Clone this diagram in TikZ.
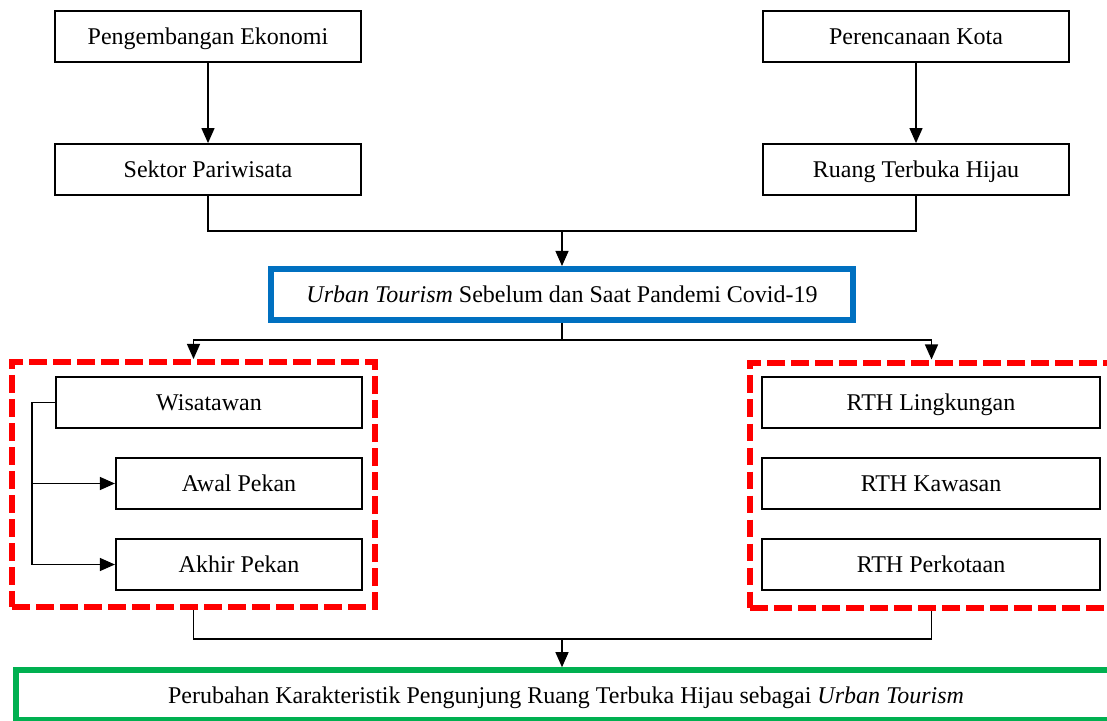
\documentclass[tikz,border=0pt]{standalone}
\usepackage{fontspec}
\setmainfont{Liberation Serif}
\usetikzlibrary{arrows.meta,positioning}
\definecolor{birutua}{RGB}{0,112,192}
\definecolor{hijautua}{RGB}{0,176,80}

\begin{document}
\begin{tikzpicture}[x=0.5pt,y=-0.5pt,font=\fontsize{12}{14}\selectfont,
  >={Triangle[length=7.5pt,width=6.5pt]},
  txt/.style={text height=8pt,text depth=0pt,inner sep=0pt},
  box/.style={draw,txt,line width=1.1pt,minimum width=153pt,minimum height=25.5pt},
  sub/.style={box,minimum width=123pt},
  rth/.style={box,minimum width=169pt},
  bluebox/.style={draw=birutua,txt,line width=3pt,minimum width=291pt,minimum height=25.5pt},
  redbox/.style={draw=red,line width=3pt,dash pattern=on 8.8pt off 3.2pt,minimum width=181.5pt,minimum height=122.5pt},
  greenbox/.style={draw=hijautua,txt,line width=2.8pt,minimum width=550pt,minimum height=25pt},
  ln/.style={line width=0.6pt}]
\useasboundingbox (0,0) rectangle (1107,721);
% baris atas
\node[box] (pe) at (208,36.5) {Pengembangan Ekonomi};
\node[box,below=40pt of pe] (sp) {Sektor Pariwisata};
\node[box] (pk) at (916,36.5) {Perencanaan Kota};
\node[box,below=40pt of pk] (rt) {Ruang Terbuka Hijau};
\node[bluebox] (ut) at (562,294.5) {\textit{Urban Tourism} Sebelum dan Saat Pandemi Covid-19};
% kelompok kiri dan kanan
\node[redbox] (kl) at (193.5,484.5) {};
\node[redbox] (kr) at (931.5,485) {};
\node[box] (wis) at (209,402.5) {Wisatawan};
\node[sub] (awal) at (239,483.5) {Awal Pekan};
\node[sub] (akhir) at (239,564.5) {Akhir Pekan};
\node[rth] (rl) at (931,402.5) {RTH Lingkungan};
\node[rth] (rk) at (931,483.5) {RTH Kawasan};
\node[rth] (rp) at (931,564.5) {RTH Perkotaan};
\node[greenbox] (hasil) at (566,695) {Perubahan Karakteristik Pengunjung Ruang Terbuka Hijau sebagai \textit{Urban Tourism}};
\coordinate (j1) at (562,231);
\coordinate (j2) at (562,340);
\coordinate (j3) at (562,639);
\draw[ln,->](pe)--(sp);\draw[ln,->](pk)--(rt);
\draw[ln](sp.south)|-(j1);\draw[ln](rt.south)|-(j1);\draw[ln,->](j1)--(ut.north);
\draw[ln](ut.south)--(j2);\draw[ln,->](j2)-|(kl.north);\draw[ln,->](j2)-|(kr.north);
\draw[ln,->](wis.west)--++(-23,0)|-(awal.west);
\draw[ln,->](wis.west)--++(-23,0)|-(akhir.west);
\draw[ln](kl.south)|-(j3);\draw[ln](kr.south)|-(j3);\draw[ln,->](j3)--(j3|-hasil.north);
\end{tikzpicture}
\end{document}
